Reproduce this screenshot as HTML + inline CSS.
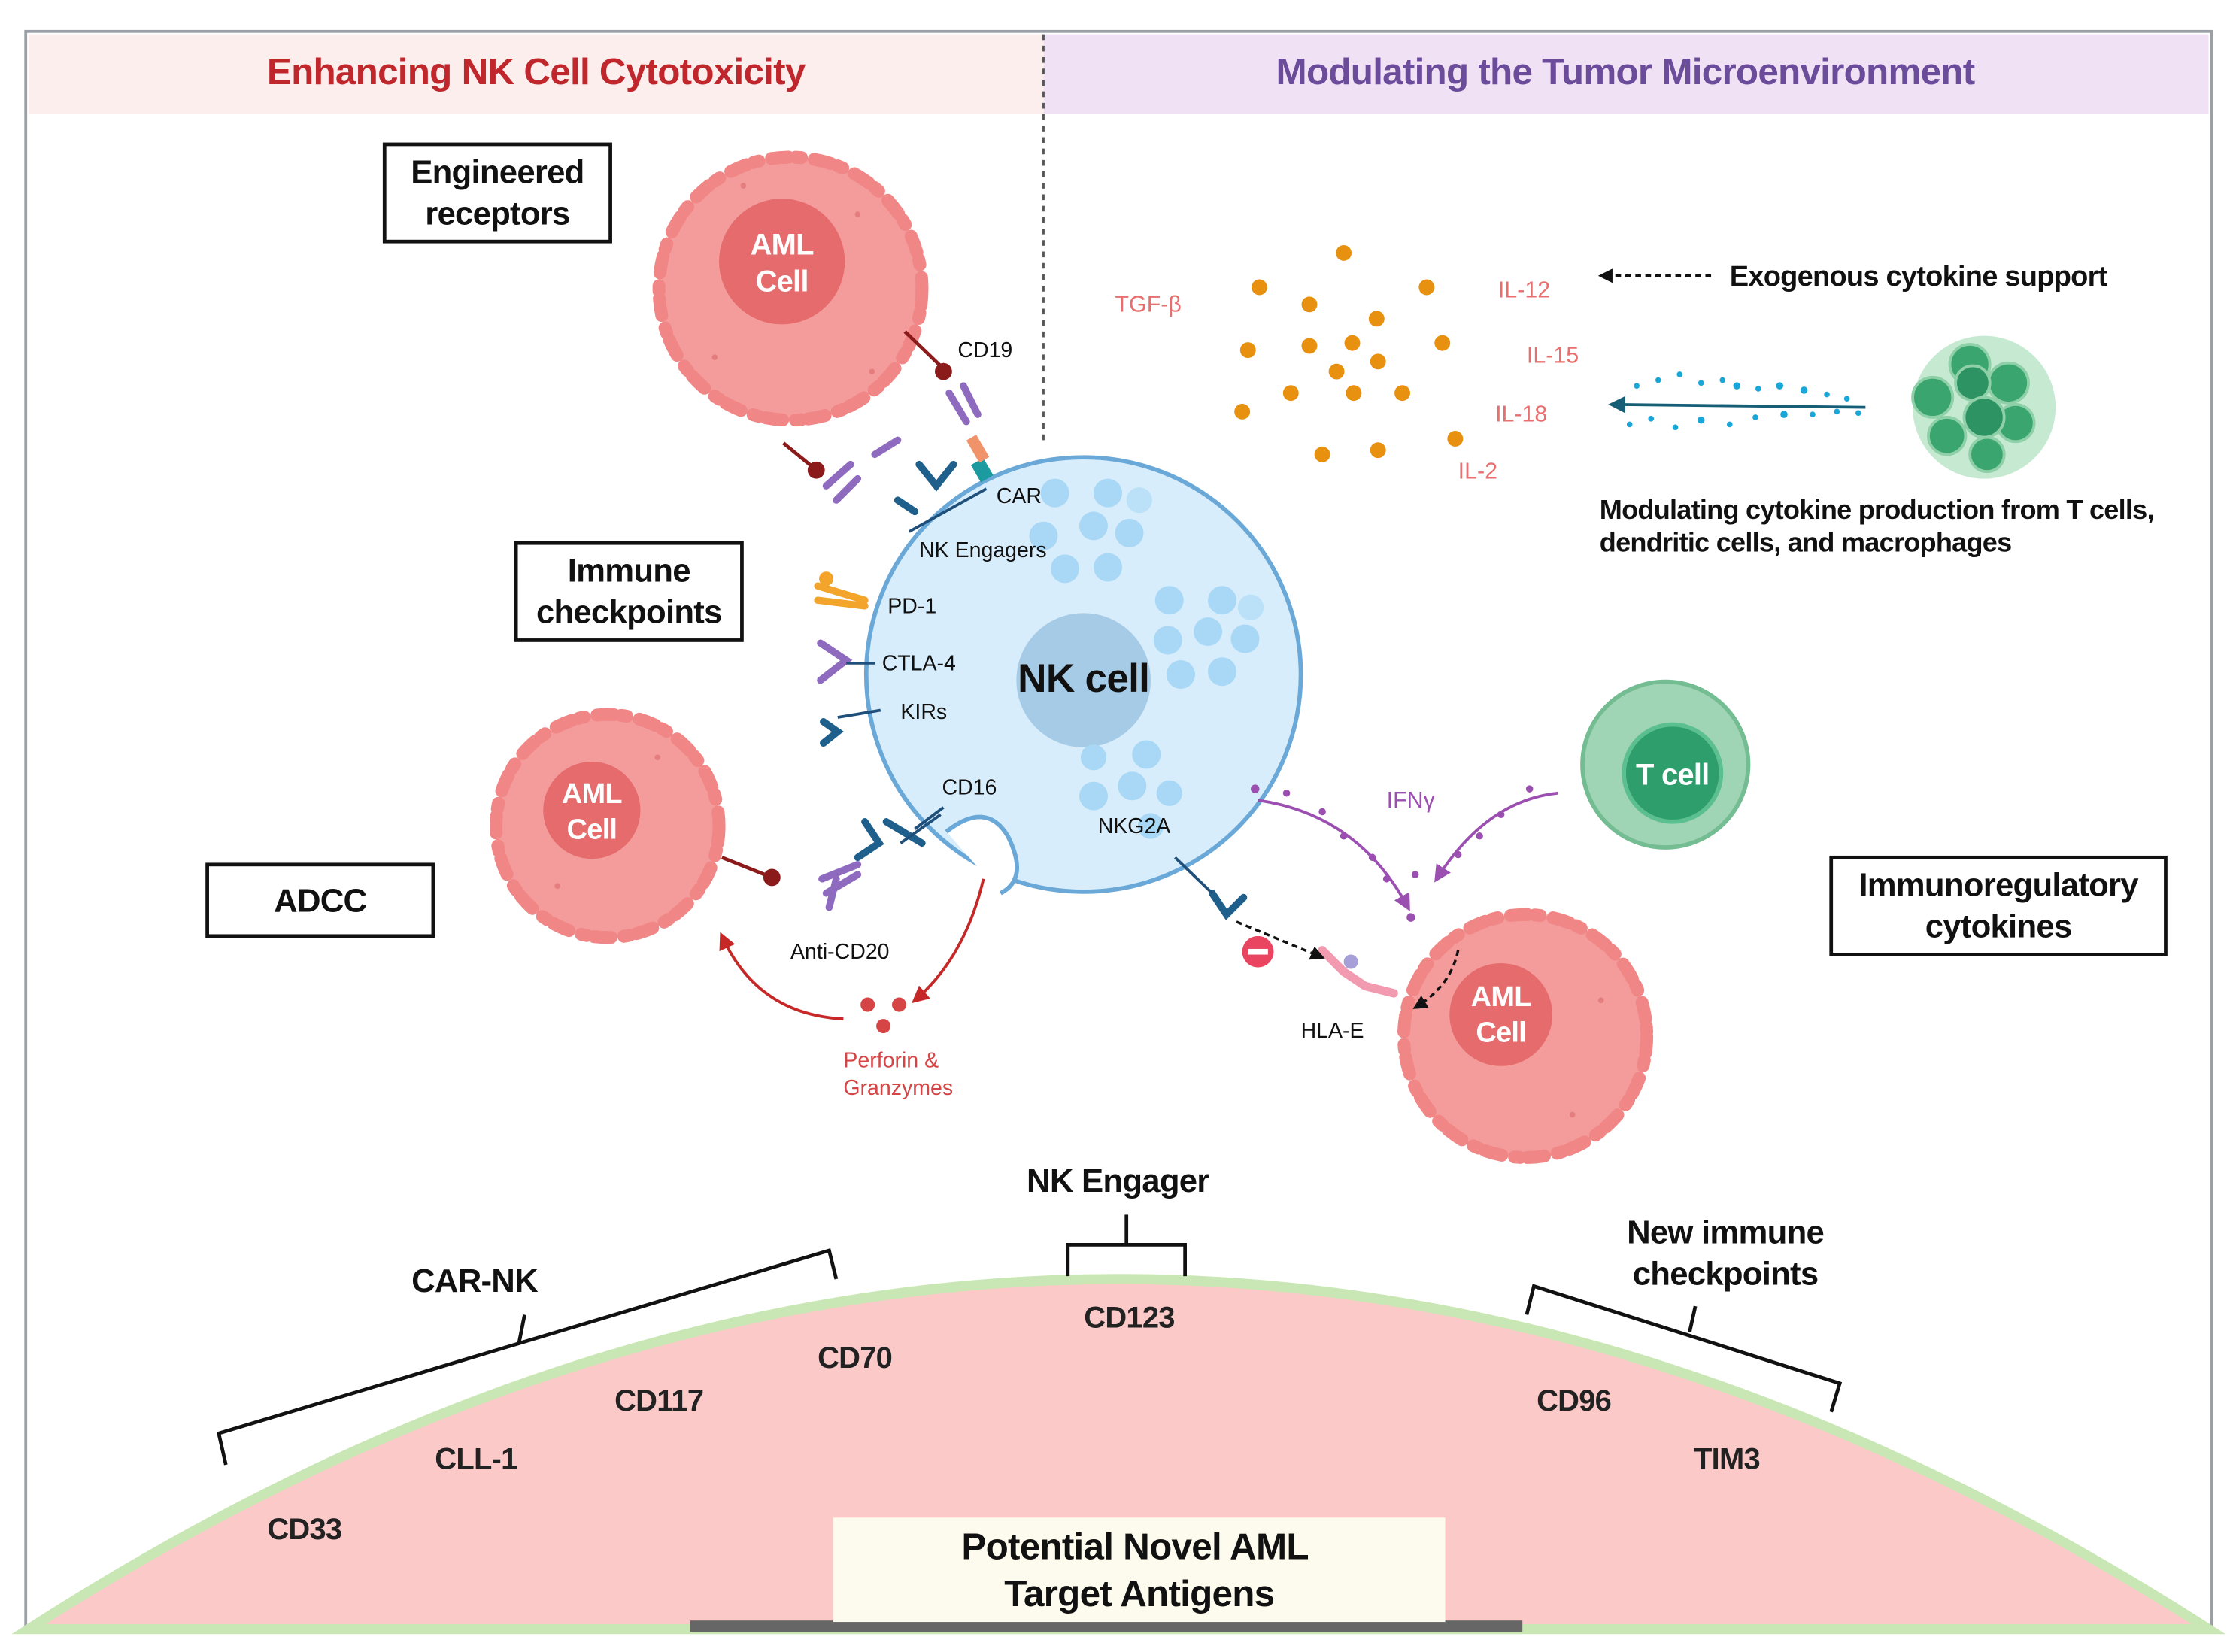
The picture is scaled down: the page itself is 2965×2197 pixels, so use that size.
<!DOCTYPE html>
<html><head><meta charset="utf-8"><style>
html,body{margin:0;padding:0;background:#fff;}
svg{display:block;}
text{font-family:"Liberation Sans",sans-serif;}
text[font-weight="bold"],g[font-weight="bold"] text{letter-spacing:-0.4px;}
</style></head><body>
<svg width="2965" height="2197" viewBox="0 0 1560 1156" preserveAspectRatio="none" xmlns="http://www.w3.org/2000/svg">
<defs>
<marker id="ah" markerWidth="10" markerHeight="10" refX="8" refY="5" orient="auto" markerUnits="userSpaceOnUse"><path d="M0,0 L10,5 L0,10 z" fill="#111"/></marker>
<marker id="ar" markerWidth="12" markerHeight="12" refX="9" refY="6" orient="auto" markerUnits="userSpaceOnUse"><path d="M0,0 L12,6 L0,12 z" fill="#c62828"/></marker>
<marker id="ap" markerWidth="12" markerHeight="12" refX="9" refY="6" orient="auto" markerUnits="userSpaceOnUse"><path d="M0,0 L12,6 L0,12 z" fill="#9b4fb0"/></marker>
<marker id="at" markerWidth="12" markerHeight="12" refX="9" refY="6" orient="auto" markerUnits="userSpaceOnUse"><path d="M0,0 L12,6 L0,12 z" fill="#155e75"/></marker>
</defs>
<rect x="0" y="0" width="1560" height="1156" fill="#fff"/>
<rect x="18" y="22" width="1529" height="1120" fill="#fff" stroke="#9aa0a6" stroke-width="2"/>
<rect x="20" y="24" width="710" height="56" fill="#fdeeee"/>
<rect x="730" y="24" width="815" height="56" fill="#f1e1f4"/>
<text x="375" y="59" font-size="26" font-weight="bold" fill="#c0272d" text-anchor="middle">Enhancing NK Cell Cytotoxicity</text>
<text x="1137" y="59" font-size="26" font-weight="bold" fill="#6b4c9a" text-anchor="middle">Modulating the Tumor Microenvironment</text>
<line x1="730" y1="24" x2="730" y2="312" stroke="#555" stroke-width="1.5" stroke-dasharray="4 4"/>

<path d="M20,1140 Q782,650 1545,1140 Z" fill="#fbc9c8" stroke="#c9e7b4" stroke-width="7"/>
<rect x="483" y="1134" width="582" height="8" fill="#666"/>
<rect x="583" y="1062" width="428" height="73" fill="#fdfaee"/>
<text x="794" y="1091" font-size="26" font-weight="bold" fill="#111" text-anchor="middle">Potential Novel AML</text>
<text x="797" y="1124" font-size="26" font-weight="bold" fill="#111" text-anchor="middle">Target Antigens</text>
<g font-size="21" font-weight="bold" fill="#222" text-anchor="middle">
<text x="213" y="1077">CD33</text><text x="333" y="1028">CLL-1</text><text x="461" y="987">CD117</text>
<text x="598" y="957">CD70</text><text x="790" y="929">CD123</text><text x="1101" y="987">CD96</text><text x="1208" y="1028">TIM3</text>
</g>
<g stroke="#111" stroke-width="2.5" fill="none">
<path d="M158,1025 L153,1003 L580,875 L585,895"/><path d="M363,940 L367,920"/>
<path d="M747,893 L747,871 L829,871 L829,893"/><path d="M788,871 L788,850"/>
<path d="M1068,920 L1073,900 L1287,968 L1281,988"/><path d="M1182,932 L1186,914"/>
</g>
<g font-size="23" font-weight="bold" fill="#111" text-anchor="middle">
<text x="332" y="904">CAR-NK</text><text x="782" y="834">NK Engager</text>
<text x="1207" y="870">New immune</text><text x="1207" y="899">checkpoints</text>
</g>

<g fill="#fff" stroke="#111" stroke-width="2.5">
<rect x="269" y="101" width="158" height="68"/><rect x="361" y="380" width="158" height="68"/>
<rect x="145" y="605" width="158" height="50"/><rect x="1281" y="600" width="234" height="68"/>
</g>
<g font-size="23" font-weight="bold" fill="#111" text-anchor="middle">
<text x="348" y="128">Engineered</text><text x="348" y="157">receptors</text>
<text x="440" y="407">Immune</text><text x="440" y="436">checkpoints</text>
<text x="224" y="638">ADCC</text>
<text x="1398" y="627">Immunoregulatory</text><text x="1398" y="656">cytokines</text>
</g>

<circle cx="758" cy="472" r="152" fill="#d8edfb" stroke="#6aa8d8" stroke-width="3"/>
<path d="M662,582 Q690,560 705,585 Q720,615 700,625" fill="#fff" stroke="#6aa8d8" stroke-width="3"/>
<circle cx="758" cy="476" r="47" fill="#a6cbe6"/>
<text x="758" y="484" font-size="28" font-weight="bold" fill="#111" text-anchor="middle">NK cell</text>
<g fill="#a8d8f6">
<circle cx="738" cy="345" r="10"/><circle cx="775" cy="345" r="10"/><circle cx="765" cy="368" r="10"/><circle cx="730" cy="375" r="10"/><circle cx="790" cy="373" r="10"/><circle cx="745" cy="398" r="10"/><circle cx="775" cy="397" r="10"/><circle cx="797" cy="350" r="9" opacity=".6"/>
<circle cx="818" cy="420" r="10"/><circle cx="855" cy="420" r="10"/><circle cx="845" cy="442" r="10"/><circle cx="817" cy="448" r="10"/><circle cx="871" cy="447" r="10"/><circle cx="826" cy="472" r="10"/><circle cx="855" cy="470" r="10"/><circle cx="875" cy="425" r="9" opacity=".6"/>
<circle cx="765" cy="530" r="9"/><circle cx="802" cy="528" r="10"/><circle cx="792" cy="550" r="10"/><circle cx="765" cy="557" r="10"/><circle cx="818" cy="555" r="9"/><circle cx="805" cy="578" r="9"/>
</g>

<g>
<circle cx="553" cy="202" r="92" fill="#f49c9b" stroke="#f08686" stroke-width="9" stroke-dasharray="12 5 4 9" stroke-linecap="round"/>
<circle cx="547" cy="183" r="44" fill="#e56b6c"/>
<text x="547" y="178" font-size="21" font-weight="bold" fill="#fff" text-anchor="middle">AML</text>
<text x="547" y="204" font-size="21" font-weight="bold" fill="#fff" text-anchor="middle">Cell</text>
<circle cx="425" cy="578" r="78" fill="#f49c9b" stroke="#f08686" stroke-width="9" stroke-dasharray="12 5 4 9" stroke-linecap="round"/>
<circle cx="414" cy="567" r="34" fill="#e56b6c"/>
<text x="414" y="562" font-size="20" font-weight="bold" fill="#fff" text-anchor="middle">AML</text>
<text x="414" y="587" font-size="20" font-weight="bold" fill="#fff" text-anchor="middle">Cell</text>
<circle cx="1067" cy="725" r="85" fill="#f49c9b" stroke="#f08686" stroke-width="9" stroke-dasharray="12 5 4 9" stroke-linecap="round"/>
<circle cx="1050" cy="710" r="36" fill="#e56b6c"/>
<text x="1050" y="704" font-size="20" font-weight="bold" fill="#fff" text-anchor="middle">AML</text>
<text x="1050" y="729" font-size="20" font-weight="bold" fill="#fff" text-anchor="middle">Cell</text>
</g>
<g fill="#d86a6a" opacity=".6">
<circle cx="500" cy="250" r="2"/><circle cx="600" cy="150" r="2"/><circle cx="520" cy="130" r="2"/><circle cx="610" cy="260" r="2"/><circle cx="390" cy="620" r="2"/><circle cx="460" cy="530" r="2"/><circle cx="1100" cy="780" r="2"/><circle cx="1120" cy="700" r="2"/>
</g>

<g stroke="#8b1a1a" stroke-width="2.5"><line x1="633" y1="232" x2="660" y2="258"/><line x1="548" y1="310" x2="570" y2="328"/><line x1="505" y1="600" x2="540" y2="614"/></g>
<g fill="#8b1a1a"><circle cx="660" cy="260" r="6"/><circle cx="571" cy="329" r="6"/><circle cx="540" cy="614" r="6"/></g>
<g stroke="#8e6bbf" stroke-width="5" stroke-linecap="round" fill="none">
<path d="M664,275 L676,295 M674,270 L684,290"/><path d="M578,340 L595,325 M585,350 L600,335"/><path d="M612,318 L628,308"/>
<path d="M575,615 L600,605 M578,625 L600,612 M580,635 L585,615"/>
<path d="M574,450 L592,462 L574,476"/>
</g>
<rect x="682" y="322" width="10" height="14" fill="#1b9aa0" transform="rotate(-30 687 329)"/>
<rect x="680" y="305" width="8" height="18" fill="#f0926a" transform="rotate(-30 684 314)"/>
<g stroke="#1f5f8b" stroke-width="5" stroke-linecap="round" fill="none">
<path d="M643,325 L655,340 L667,325"/><path d="M628,350 L640,358"/><path d="M600,600 L615,590 L605,575"/><path d="M620,575 L645,590"/>
<path d="M848,625 L858,640 L870,628"/><path d="M576,505 L586,512 L576,520"/>
</g>
<g stroke="#1f4f7b" stroke-width="2"><line x1="636" y1="372" x2="690" y2="342"/><line x1="586" y1="502" x2="616" y2="497"/><line x1="592" y1="464" x2="612" y2="464"/><line x1="822" y1="600" x2="848" y2="625"/><line x1="630" y1="590" x2="658" y2="570"/><line x1="640" y1="580" x2="660" y2="565"/></g>
<path d="M572,410 L605,420 M572,420 L605,424" stroke="#f2a52a" stroke-width="5" stroke-linecap="round"/>
<circle cx="578" cy="405" r="5" fill="#f2a52a"/>
<path d="M925,665 L940,680 L955,690 L975,695" stroke="#f29ab0" stroke-width="6" stroke-linecap="round" fill="none"/>
<circle cx="945" cy="673" r="5" fill="#a7a0d8"/>
<circle cx="880" cy="666" r="11" fill="#e94560"/><rect x="873" y="664" width="14" height="4" fill="#fff"/>
<line x1="865" y1="645" x2="925" y2="670" stroke="#111" stroke-width="1.8" stroke-dasharray="4 3" marker-end="url(#ah)"/>
<path d="M1020,665 Q1015,690 990,705" stroke="#111" stroke-width="1.8" stroke-dasharray="4 3" fill="none" marker-end="url(#ah)"/>

<g font-size="15" fill="#111">
<text x="670" y="250">CD19</text><text x="697" y="352">CAR</text><text x="643" y="390">NK Engagers</text>
<text x="621" y="429">PD-1</text><text x="617" y="469">CTLA-4</text><text x="630" y="503">KIRs</text>
<text x="659" y="556">CD16</text><text x="768" y="583">NKG2A</text><text x="553" y="671">Anti-CD20</text><text x="910" y="726">HLA-E</text>
</g>

<g fill="#d64545"><circle cx="607" cy="703" r="5"/><circle cx="629" cy="703" r="5"/><circle cx="618" cy="718" r="5"/></g>
<path d="M688,615 Q675,670 640,700" stroke="#c62828" stroke-width="2" fill="none" marker-end="url(#ar)"/>
<path d="M590,713 Q530,710 505,655" stroke="#c62828" stroke-width="2" fill="none" marker-end="url(#ar)"/>
<text x="590" y="747" font-size="15" fill="#d64545">Perforin &amp;</text>
<text x="590" y="766" font-size="15" fill="#d64545">Granzymes</text>

<path d="M880,560 Q950,570 985,635" stroke="#9b4fb0" stroke-width="2" fill="none" marker-end="url(#ap)"/>
<path d="M1090,555 Q1040,560 1005,615" stroke="#9b4fb0" stroke-width="2" fill="none" marker-end="url(#ap)"/>
<g fill="#9b4fb0"><circle cx="900" cy="555" r="2.5"/><circle cx="925" cy="568" r="2.5"/><circle cx="940" cy="585" r="2.5"/><circle cx="960" cy="600" r="2.5"/><circle cx="970" cy="615" r="2.5"/><circle cx="1070" cy="552" r="2.5"/><circle cx="1050" cy="570" r="2.5"/><circle cx="1035" cy="585" r="2.5"/><circle cx="1020" cy="598" r="2.5"/><circle cx="990" cy="612" r="2.5"/><circle cx="878" cy="552" r="3"/><circle cx="987" cy="642" r="3"/></g>
<text x="970" y="565" font-size="16" fill="#9b4fb0">IFNγ</text>

<circle cx="1165" cy="535" r="58" fill="#9fd4b4" stroke="#74bd92" stroke-width="3"/>
<circle cx="1170" cy="541" r="34" fill="#2e9e6c" stroke="#5cbf8f" stroke-width="3"/>
<text x="1170" y="549" font-size="21" font-weight="bold" fill="#fff" text-anchor="middle">T cell</text>

<g fill="#e8900f">
<circle cx="940" cy="177" r="5.5"/><circle cx="881" cy="201" r="5.5"/><circle cx="998" cy="201" r="5.5"/><circle cx="916" cy="213" r="5.5"/><circle cx="963" cy="223" r="5.5"/>
<circle cx="873" cy="245" r="5.5"/><circle cx="916" cy="242" r="5.5"/><circle cx="946" cy="240" r="5.5"/><circle cx="1009" cy="240" r="5.5"/><circle cx="964" cy="253" r="5.5"/><circle cx="935" cy="260" r="5.5"/>
<circle cx="903" cy="275" r="5.5"/><circle cx="947" cy="275" r="5.5"/><circle cx="981" cy="275" r="5.5"/><circle cx="869" cy="288" r="5.5"/><circle cx="1018" cy="307" r="5.5"/><circle cx="925" cy="318" r="5.5"/><circle cx="964" cy="315" r="5.5"/>
</g>
<g font-size="16" fill="#e86f6f">
<text x="780" y="218">TGF-β</text><text x="1048" y="208">IL-12</text><text x="1068" y="254">IL-15</text><text x="1046" y="295">IL-18</text><text x="1020" y="335">IL-2</text>
</g>
<line x1="1197" y1="193" x2="1120" y2="193" stroke="#111" stroke-width="2" stroke-dasharray="4 3" marker-end="url(#ah)"/>
<text x="1210" y="200" font-size="20" font-weight="bold" fill="#111">Exogenous cytokine support</text>
<line x1="1305" y1="285" x2="1128" y2="283" stroke="#155e75" stroke-width="2" marker-end="url(#at)"/>
<g fill="#1aa7d8">
<circle cx="1145" cy="270" r="2"/><circle cx="1160" cy="266" r="2"/><circle cx="1175" cy="262" r="2"/><circle cx="1190" cy="268" r="2"/><circle cx="1205" cy="266" r="2"/><circle cx="1215" cy="270" r="2.5"/><circle cx="1230" cy="272" r="2"/><circle cx="1245" cy="270" r="2.5"/><circle cx="1262" cy="273" r="2.5"/><circle cx="1278" cy="276" r="2"/><circle cx="1292" cy="279" r="2"/>
<circle cx="1140" cy="297" r="2"/><circle cx="1155" cy="293" r="2"/><circle cx="1172" cy="299" r="2"/><circle cx="1190" cy="294" r="2.5"/><circle cx="1210" cy="297" r="2"/><circle cx="1228" cy="292" r="2"/><circle cx="1248" cy="290" r="2.5"/><circle cx="1268" cy="290" r="2"/><circle cx="1285" cy="288" r="2"/><circle cx="1300" cy="289" r="2"/>
</g>
<g stroke="#8fd0a8" stroke-width="2">
<circle cx="1388" cy="285" r="50" fill="#b7e3c6" stroke="none" opacity=".8"/>
<circle cx="1378" cy="255" r="14" fill="#3aa56f"/><circle cx="1405" cy="268" r="14" fill="#3aa56f"/><circle cx="1352" cy="278" r="14" fill="#3aa56f"/><circle cx="1380" cy="268" r="12" fill="#2e9362"/>
<circle cx="1410" cy="296" r="13" fill="#3aa56f"/><circle cx="1388" cy="292" r="14" fill="#2e9362"/><circle cx="1362" cy="305" r="13" fill="#3aa56f"/><circle cx="1390" cy="318" r="12" fill="#3aa56f"/>
</g>
<text x="1119" y="363" font-size="19" font-weight="bold" fill="#111">Modulating cytokine production from T cells,</text>
<text x="1119" y="386" font-size="19" font-weight="bold" fill="#111">dendritic cells, and macrophages</text>
</svg>
</body></html>
